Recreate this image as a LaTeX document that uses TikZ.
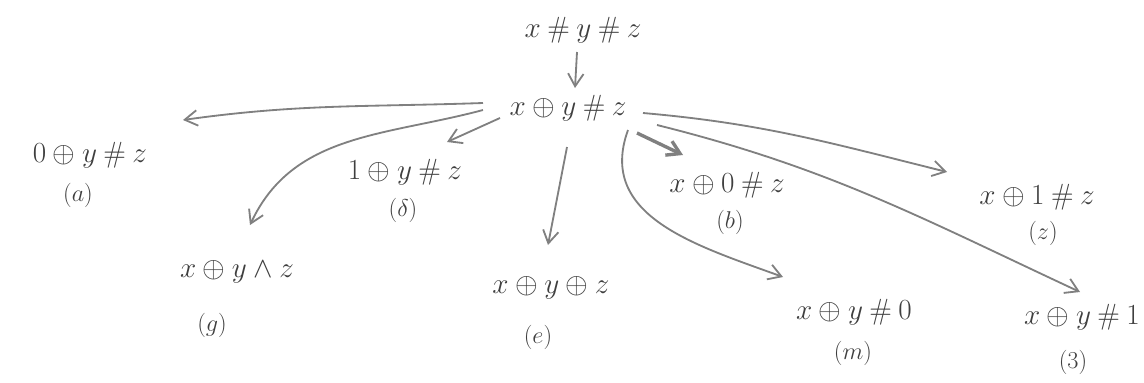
\documentclass[tikz,border=0pt]{standalone}
\usepackage{amsmath}
\usepackage{amssymb}
\usepackage{xcolor}
\usepackage{tikz}
\usetikzlibrary{arrows.meta}

\definecolor{inkc}{HTML}{3f3f3f}
\definecolor{pencil}{HTML}{808080}
\newcommand{\hs}{\mathbin{\#}}

\begin{document}
\begin{tikzpicture}[
        x=0.025cm, y=-0.025cm,
        expr/.style={font=\huge, text=inkc, inner sep=2pt},
        lab/.style={font=\LARGE, text=inkc, inner sep=1pt},
        arr/.style={draw=pencil, line width=1.3pt, -{Straight Barb[length=9pt, width=11pt]}},
        thickarr/.style={arr, line width=2.4pt}
    ]
    \useasboundingbox (0,0) rectangle (1144,382);
    \clip (0,0) rectangle (1144,382);

    % Start and first step
    \node[expr] (top) at (583, 30) {$x \hs y \hs z$};
    \node[expr] (mid) at (568, 108) {$x \oplus y \hs z$};

    % Results of the rewriting
    \node[expr] (nA) at (90, 155) {$0 \oplus y \hs z$};
    \node[lab] (lA) at (78, 195) {$(a)$};
    \node[expr] (nD) at (405, 172) {$1 \oplus y \hs z$};
    \node[lab] (lD) at (403, 210) {$(\delta)$};
    \node[expr] (nB) at (727, 185) {$x \oplus 0 \hs z$};
    \node[lab] (lB) at (730, 222) {$(b)$};
    \node[expr] (nZ) at (1037, 197) {$x \oplus 1 \hs z$};
    \node[lab] (lZ) at (1043, 233) {$(z)$};
    \node[expr] (nG) at (237, 272) {$x \oplus y \wedge z$};
    \node[lab] (lG) at (212, 325) {$(g)$};
    \node[expr] (nE) at (551, 288) {$x \oplus y \oplus z$};
    \node[lab] (lE) at (538, 337) {$(e)$};
    \node[expr] (nM) at (854, 312) {$x \oplus y \hs 0$};
    \node[lab] (lM) at (853, 353) {$(m)$};
    \node[expr] (n3) at (1082, 317) {$x \oplus y \hs 1$};
    \node[lab] (l3) at (1073, 362) {$(3)$};

    % Arrows
    \draw[arr] ([shift={(-6,22)}]top.center) -- ([shift={(7,-20)}]mid.center);
    \draw[arr] ([shift={(-85,-5)}]mid.center) to[out=182, in=8] ([shift={(93,-35)}]nA.center);
    \draw[arr] ([shift={(-85,2)}]mid.center) to[out=195, in=65] ([shift={(13,-47)}]nG.center);
    \draw[arr] ([shift={(-68,10)}]mid.center) -- ([shift={(42,-30)}]nD.center);
    \draw[arr] ([shift={(-1,39)}]mid.center) -- ([shift={(-3,-43)}]nE.center);
    \draw[thickarr] ([shift={(69,25)}]mid.center) -- ([shift={(-44,-30)}]nB.center);
    \draw[arr] ([shift={(60,22)}]mid.center) to[out=250, in=160, looseness=1.1] ([shift={(-71,-35)}]nM.center);
    \draw[arr] ([shift={(75,5)}]mid.center) to[out=-5, in=166] ([shift={(-90,-25)}]nZ.center);
    \draw[arr] ([shift={(89,17)}]mid.center) to[out=-14, in=155] ([shift={(-2,-25)}]n3.center);
\end{tikzpicture}
\end{document}
